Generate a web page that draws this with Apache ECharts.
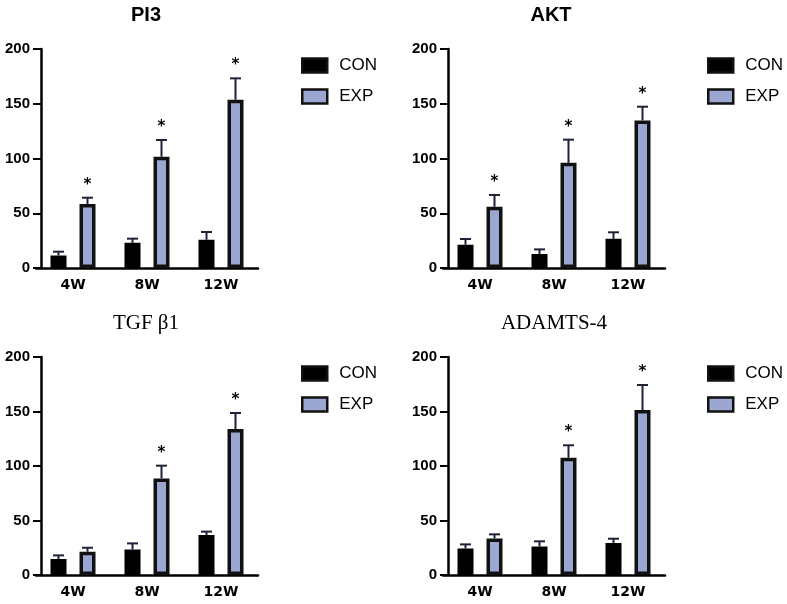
<!DOCTYPE html>
<html>
<head>
<meta charset="utf-8">
<script src="https://cdn.jsdelivr.net/npm/echarts@6/dist/echarts.min.js"></script>
<style>html,body{margin:0;padding:0;background:#fff}#c{width:787px;height:604px}</style>
</head>
<body>
<div id="c"></div>
<script>
const categories = ['4W', '8W', '12W'];
const titles = ['PI3', 'AKT', 'TGF β1', 'ADAMTS-4'];
const seriesNames = ['CON', 'EXP'];
const yTicks = [0, 50, 100, 150, 200];

const pi3Con = [11.5, 23, 25.8];
const pi3ConSd = [3.4, 3.8, 7.1];
const pi3Exp = [58.4, 101.6, 153.6];
const pi3ExpSd = [5.8, 15.3, 19.6];
const pi3Sig = [1, 1, 1];

const aktCon = [21.2, 12.7, 26.7];
const aktConSd = [5.3, 4.3, 5.9];
const aktExp = [55.9, 96.1, 134.8];
const aktExpSd = [10.8, 21.1, 12.5];
const aktSig = [1, 1, 1];

const tgfCon = [14.6, 23.5, 36.6];
const tgfConSd = [3.4, 5.5, 3.2];
const tgfExp = [21.3, 88.6, 133.9];
const tgfExpSd = [3.7, 11.7, 14.7];
const tgfSig = [0, 1, 1];

const adaCon = [24.4, 26.2, 29.3];
const adaConSd = [3.7, 4.7, 4.0];
const adaExp = [33.6, 107.6, 151.3];
const adaExpSd = [3.7, 11.4, 23.0];
const adaSig = [0, 1, 1];

const panels = [
  {con: pi3Con, conSd: pi3ConSd, exp: pi3Exp, expSd: pi3ExpSd, sig: pi3Sig},
  {con: aktCon, conSd: aktConSd, exp: aktExp, expSd: aktExpSd, sig: aktSig},
  {con: tgfCon, conSd: tgfConSd, exp: tgfExp, expSd: tgfExpSd, sig: tgfSig},
  {con: adaCon, conSd: adaConSd, exp: adaExp, expSd: adaExpSd, sig: adaSig}
];

// layout / style
const gridPos = [
  {left: 36, top: 49, width: 222, height: 219},
  {left: 443, top: 49, width: 222, height: 219},
  {left: 36, top: 357, width: 222, height: 218},
  {left: 443, top: 357, width: 222, height: 218}
];
const legendPos = [
  {left: 301, top: 57}, {left: 707, top: 57},
  {left: 301, top: 365}, {left: 707, top: 365}
];
const titlePos = [
  {x: 146, y: 15, font: 'bold 20px "Liberation Sans", Arial, sans-serif'},
  {x: 551, y: 15, font: 'bold 20px "Liberation Sans", Arial, sans-serif'},
  {x: 146, y: 323, font: '21px "Liberation Serif", "Times New Roman", serif'},
  {x: 554, y: 323, font: '21px "Liberation Serif", "Times New Roman", serif'}
];
const BAR_W = 16;
const BAR_GAP_PX = 13;
const HALF_SEP = (BAR_W + BAR_GAP_PX) / 2;
const conColor = '#000000';
const expColor = '#9ca7d1';
const errColor = '#1c2238';

const option = {
  animation: false,
  backgroundColor: '#ffffff',
  grid: gridPos.map(g => Object.assign({containLabel: false}, g)),
  xAxis: gridPos.map((g, i) => ({
    type: 'category', gridIndex: i, data: categories,
    axisLine: {lineStyle: {color: '#000', width: 2.5}},
    axisTick: {alignWithLabel: true, length: 8, lineStyle: {color: '#000', width: 2}},
    axisLabel: {color: '#000', fontFamily: '"DejaVu Sans", sans-serif', fontWeight: 'bold', fontSize: 14, margin: 10}
  })),
  yAxis: gridPos.map((g, i) => ({
    type: 'value', gridIndex: i, min: 0, max: 200, interval: 50, offset: -5,
    splitLine: {show: false},
    axisLine: {show: true, lineStyle: {color: '#000', width: 2.5}},
    axisTick: {show: true, length: 8, lineStyle: {color: '#000', width: 2}},
    axisLabel: {color: '#000', fontFamily: '"Liberation Sans", Arial, sans-serif', fontWeight: 'bold', fontSize: 15, margin: 11,
      formatter: v => yTicks.includes(v) ? String(v) : ''}
  })),
  legend: legendPos.map(p => ({
    left: p.left, top: p.top, orient: 'vertical', padding: 0,
    itemWidth: 25, itemHeight: 14, itemGap: 14, icon: 'rect',
    data: seriesNames,
    itemStyle: {borderWidth: 2.5, borderColor: '#111'},
    textStyle: {color: '#000', fontSize: 17, fontFamily: '"Liberation Sans", Arial, sans-serif', lineHeight: 16, padding: [0, 0, 0, 7]}
  })),
  graphic: titles.map((t, i) => ({
    type: 'text', x: titlePos[i].x, y: titlePos[i].y,
    style: {text: t, font: titlePos[i].font, fill: '#000', align: 'center', verticalAlign: 'middle'}
  })),
  series: []
};

panels.forEach((p, i) => {
  option.series.push({
    name: 'CON', type: 'bar', xAxisIndex: i, yAxisIndex: i, data: p.con,
    barWidth: BAR_W, barGap: (BAR_GAP_PX / BAR_W * 100) + '%',
    itemStyle: {color: conColor, borderColor: '#000', borderWidth: 3.5}
  });
  option.series.push({
    name: 'EXP', type: 'bar', xAxisIndex: i, yAxisIndex: i, data: p.exp,
    barWidth: BAR_W, barGap: (BAR_GAP_PX / BAR_W * 100) + '%',
    itemStyle: {color: expColor, borderColor: '#111', borderWidth: 3.5}
  });
  const errData = [];
  categories.forEach((c, k) => {
    errData.push([k, p.con[k], p.conSd[k], -1, 0]);
    errData.push([k, p.exp[k], p.expSd[k], 1, p.sig[k]]);
  });
  option.series.push({
    name: 'err' + i, type: 'custom', xAxisIndex: i, yAxisIndex: i, z: 5,
    encode: {x: 0, y: 1},
    data: errData,
    renderItem: function (params, api) {
      const k = api.value(0), m = api.value(1), sd = api.value(2), side = api.value(3), sig = api.value(4);
      const base = api.coord([k, m]);
      const top = api.coord([k, m + sd]);
      const x = base[0] + side * HALF_SEP;
      const children = [
        {type: 'line', shape: {x1: x, y1: base[1], x2: x, y2: top[1]}, style: {stroke: errColor, lineWidth: 2}},
        {type: 'line', shape: {x1: x - 5.5, y1: top[1], x2: x + 5.5, y2: top[1]}, style: {stroke: errColor, lineWidth: 2}}
      ];
      if (sig) {
        children.push({type: 'text', x: x, y: top[1] - 13,
          style: {text: '*', font: 'bold 15px "DejaVu Sans", sans-serif', fill: '#000', align: 'center', verticalAlign: 'middle'}});
      }
      return {type: 'group', children: children};
    }
  });
});

const chart = echarts.init(document.getElementById('c'), null, {renderer: 'canvas'});
chart.setOption(option);
</script>
</body>
</html>
